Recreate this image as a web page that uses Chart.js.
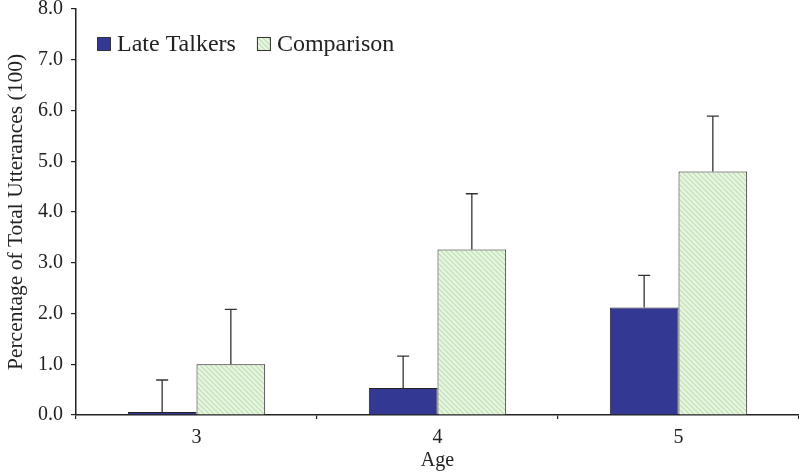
<!DOCTYPE html>
<html>
<head>
<meta charset="utf-8">
<script src="https://cdn.jsdelivr.net/npm/chart.js@4.4.1/dist/chart.umd.min.js"></script>
<style>
  html, body { margin: 0; padding: 0; background: #fff; }
  #wrap { width: 799px; height: 473px; }
</style>
</head>
<body>
<div id="wrap"><canvas id="chart"></canvas></div>
<script>
const ages = ["3", "4", "5"];
const lateTalkers = [0.06, 0.53, 2.12];
const comparison = [1.0, 3.26, 4.80];
// upper end of each error bar
const lateTalkersErr = [0.69, 1.16, 2.75];
const comparisonErr = [2.08, 4.36, 5.89];

const serif = "'Liberation Serif', 'Times New Roman', serif";

// diagonal hatch for the comparison bars
function hatch() {
  const s = 5;
  const c = document.createElement("canvas");
  c.width = s; c.height = s;
  const g = c.getContext("2d");
  g.fillStyle = "#e9f5e3";
  g.fillRect(0, 0, s, s);
  g.strokeStyle = "#bddfae";
  g.lineWidth = 1.2;
  g.beginPath();
  g.moveTo(-1, -1); g.lineTo(s + 1, s + 1);
  g.moveTo(-1, s - 1); g.lineTo(1, s + 1);
  g.moveTo(s - 1, -1); g.lineTo(s + 1, 1);
  g.stroke();
  return g.createPattern(c, "repeat");
}
const hatchFill = hatch();

// error bars: a line up from each bar top with a cap
const errorBars = {
  id: "errorBars",
  afterDatasetsDraw(chart) {
    const ctx = chart.ctx;
    const y = chart.scales.y;
    ctx.save();
    ctx.strokeStyle = "#333";
    ctx.lineWidth = 1.3;
    chart.data.datasets.forEach((ds, i) => {
      chart.getDatasetMeta(i).data.forEach((bar, j) => {
        const top = y.getPixelForValue(ds.errTop[j]);
        ctx.beginPath();
        ctx.moveTo(bar.x, bar.y);
        ctx.lineTo(bar.x, top);
        ctx.moveTo(bar.x - 6, top);
        ctx.lineTo(bar.x + 6, top);
        ctx.stroke();
      });
    });
    ctx.restore();
  }
};

// legend inside the plot, top left
const insideLegend = {
  id: "insideLegend",
  afterDraw(chart) {
    const ctx = chart.ctx;
    let x = chart.chartArea.left + 21;
    const y = 44;
    ctx.save();
    ctx.font = "24px " + serif;
    ctx.textBaseline = "middle";
    chart.data.datasets.forEach(ds => {
      ctx.fillStyle = ds.backgroundColor;
      ctx.fillRect(x, y - 7, 14, 14);
      ctx.strokeStyle = "#333";
      ctx.lineWidth = 1;
      ctx.strokeRect(x + 0.5, y - 6.5, 13, 13);
      ctx.fillStyle = "#222";
      ctx.fillText(ds.label, x + 20, y + 1);
      x += 20 + ctx.measureText(ds.label).width + 21;
    });
    ctx.restore();
  }
};

new Chart(document.getElementById("chart"), {
  type: "bar",
  data: {
    labels: ages,
    datasets: [
      {
        label: "Late Talkers",
        data: lateTalkers,
        errTop: lateTalkersErr,
        backgroundColor: "#333993",
        borderColor: "#222",
        borderWidth: 1,
        categoryPercentage: 0.57,
        barPercentage: 1.0
      },
      {
        label: "Comparison",
        data: comparison,
        errTop: comparisonErr,
        backgroundColor: hatchFill,
        borderColor: "#222",
        borderWidth: 1,
        categoryPercentage: 0.57,
        barPercentage: 1.0
      }
    ]
  },
  options: {
    responsive: true,
    maintainAspectRatio: false,
    animation: false,
    layout: { padding: { top: 0, right: 0, left: 0, bottom: 0 } },
    plugins: {
      legend: { display: false },
      tooltip: { enabled: false }
    },
    scales: {
      x: {
        afterFit(s) { s.height = 58; },
        grid: {
          offset: true,
          drawOnChartArea: false,
          drawTicks: true,
          tickLength: 4,
          color: "#222",
          lineWidth: 1.2
        },
        border: { display: true, color: "#222", width: 1.5 },
        ticks: {
          color: "#222",
          padding: 7,
          font: { family: serif, size: 20 }
        },
        title: {
          display: true,
          text: "Age",
          color: "#222",
          padding: { top: 0, bottom: 0 },
          font: { family: serif, size: 20 }
        }
      },
      y: {
        min: 0,
        max: 8,
        afterFit(s) { s.width = 76; s.paddingTop = 9; },
        grid: {
          drawOnChartArea: false,
          drawTicks: true,
          tickLength: 5,
          color: "#222",
          lineWidth: 1.2
        },
        border: { display: true, color: "#222", width: 1.5 },
        ticks: {
          stepSize: 1,
          color: "#222",
          padding: 8,
          font: { family: serif, size: 20 },
          callback: v => v.toFixed(1)
        },
        title: {
          display: true,
          text: "Percentage of Total Utterances (100)",
          color: "#222",
          padding: { top: 3, bottom: 0 },
          font: { family: serif, size: 21.5 }
        }
      }
    }
  },
  plugins: [errorBars, insideLegend]
});
</script>
</body>
</html>
